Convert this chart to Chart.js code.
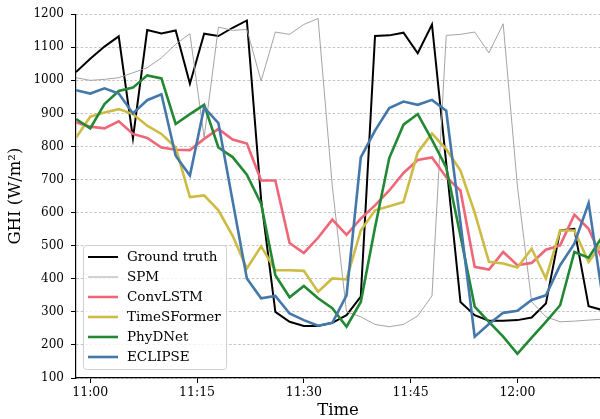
<!DOCTYPE html>
<html>
<head>
<meta charset="utf-8">
<script src="https://cdn.jsdelivr.net/npm/chart.js@4.4.1/dist/chart.umd.min.js"></script>
<style>
  html, body { margin: 0; padding: 0; background: #fff; }
  #wrap { width: 600px; height: 419px; }
</style>
</head>
<body>
<div id="wrap"><canvas id="ghiChart" width="600" height="419"></canvas></div>
<script>
// sample times, every 2 minutes
const times = ['10:58', '11:00', '11:02', '11:04', '11:06', '11:08', '11:10', '11:12', '11:14', '11:16',
  '11:18', '11:20', '11:22', '11:24', '11:26', '11:28', '11:30', '11:32', '11:34', '11:36',
  '11:38', '11:40', '11:42', '11:44', '11:46', '11:48', '11:50', '11:52', '11:54', '11:56',
  '11:58', '12:00', '12:02', '12:04', '12:06', '12:08', '12:10', '12:12'];

const groundTruth = [1025, 1065, 1102, 1133, 825, 1152, 1142, 1151, 990, 1141,
  1134, 1159, 1181, 640, 300, 270, 257, 257, 267, 290,
  346, 1134, 1136, 1144, 1082, 1169, 750, 330, 290, 273,
  273, 275, 283, 325, 546, 551, 317, 305];
const spm = [1008, 1000, 1003, 1008, 1023, 1038, 1068, 1109, 1141, 827,
  1161, 1151, 1154, 998, 1146, 1139, 1169, 1187, 680, 300,
  285, 262, 255, 262, 288, 348, 1136, 1139, 1146, 1083,
  1171, 680, 330, 285, 270, 272, 275, 278];
const convLSTM = [873, 860, 855, 876, 838, 826, 797, 790, 789, 823,
  853, 821, 809, 697, 697, 508, 478, 524, 579, 533,
  582, 622, 667, 720, 759, 767, 707, 667, 436, 428,
  481, 441, 448, 488, 501, 594, 551, 455];
const timeSFormer = [826, 890, 903, 913, 898, 863, 838, 797, 647, 652,
  607, 530, 431, 498, 426, 426, 424, 361, 401, 398,
  546, 607, 619, 632, 782, 839, 792, 727, 600, 451,
  446, 434, 491, 401, 546, 546, 451, 510];
const phyDNet = [883, 855, 928, 968, 978, 1015, 1006, 868, 898, 926,
  797, 768, 715, 627, 411, 344, 378, 341, 311, 255,
  330, 555, 765, 866, 898, 820, 737, 530, 316, 270,
  225, 173, 222, 270, 320, 481, 464, 530];
const eclipse = [970, 960, 976, 960, 900, 940, 958, 772, 712, 918,
  871, 635, 401, 341, 348, 295, 275, 258, 267, 350,
  767, 848, 916, 936, 926, 941, 908, 570, 225, 263,
  297, 303, 336, 350, 441, 506, 629, 340];

const xTickTimes = ['11:00', '11:15', '11:30', '11:45', '12:00'];
const yTicks = [100, 200, 300, 400, 500, 600, 700, 800, 900, 1000, 1100, 1200];

// minutes relative to 11:00
function toMin(t) {
  const [h, m] = t.split(':').map(Number);
  return (h - 11) * 60 + m;
}
function toLabel(v) {
  const h = 11 + Math.floor(v / 60);
  const m = ((v % 60) + 60) % 60;
  return h + ':' + String(m).padStart(2, '0');
}

const xs = times.map(toMin);
const pts = arr => arr.map((y, i) => ({ x: xs[i], y }));

const series = [
  { label: 'Ground truth', data: groundTruth, color: '#000000', width: 2 },
  { label: 'SPM', data: spm, color: '#9a9a9a', width: 0.9 },
  { label: 'ConvLSTM', data: convLSTM, color: '#EE6677', width: 2.6 },
  { label: 'TimeSFormer', data: timeSFormer, color: '#CCBB44', width: 2.6 },
  { label: 'PhyDNet', data: phyDNet, color: '#228833', width: 2.6 },
  { label: 'ECLIPSE', data: eclipse, color: '#4477AA', width: 2.6 }
];

Chart.defaults.font.family = '"DejaVu Serif", serif';
Chart.defaults.color = '#000';

// legend box in the lower left of the plot
const boxLegend = {
  id: 'boxLegend',
  afterDraw(chart) {
    const ctx = chart.ctx;
    const left = 83.5, top = 245.5, w = 143, h = 124;
    ctx.save();
    ctx.beginPath();
    ctx.roundRect(left, top, w, h, 3);
    ctx.fillStyle = 'rgba(255,255,255,0.8)';
    ctx.fill();
    ctx.strokeStyle = '#d0d0d0';
    ctx.lineWidth = 1;
    ctx.stroke();
    ctx.font = '13.5px "DejaVu Serif", serif';
    ctx.textBaseline = 'middle';
    ctx.fillStyle = '#000';
    chart.data.datasets.forEach((ds, i) => {
      const y = 257 + i * 20;
      ctx.beginPath();
      ctx.moveTo(88, y);
      ctx.lineTo(118, y);
      ctx.strokeStyle = ds.borderColor;
      ctx.lineWidth = ds.borderWidth;
      ctx.stroke();
      ctx.fillText(ds.label, 127, y);
    });
    ctx.restore();
  }
};

new Chart(document.getElementById('ghiChart'), {
  type: 'line',
  data: {
    datasets: series.map((s, i) => ({
      label: s.label,
      data: pts(s.data),
      borderColor: s.color,
      backgroundColor: s.color,
      borderWidth: s.width,
      pointRadius: 0,
      tension: 0,
      order: series.length - i
    }))
  },
  options: {
    responsive: false,
    animation: false,
    layout: { padding: { top: 13, right: 0, left: 0, bottom: 0 } },
    plugins: { legend: { display: false }, tooltip: { enabled: false } },
    scales: {
      x: {
        type: 'linear',
        min: -2,
        max: 71.6,
        afterBuildTicks: s => { s.ticks = xTickTimes.map(t => ({ value: toMin(t) })); },
        afterFit: s => { s.height = 41; },
        ticks: { callback: v => toLabel(v), font: { size: 12.5 }, padding: 2, maxRotation: 0 },
        grid: { drawOnChartArea: false, tickLength: 5, tickColor: '#000', tickWidth: 1 },
        border: { color: '#000', width: 1.2 },
        title: { display: true, text: 'Time', font: { size: 16.5, lineHeight: 1 }, padding: { top: 0, bottom: 0 } }
      },
      y: {
        min: 100,
        max: 1200,
        afterBuildTicks: s => { s.ticks = yTicks.map(v => ({ value: v })); },
        afterFit: s => { s.width = 76; },
        ticks: { callback: v => String(v), font: { size: 12 }, padding: 7 },
        grid: { color: '#b5b5b5', lineWidth: 0.8, tickLength: 5, tickColor: '#000', tickWidth: 1 },
        border: { color: '#000', width: 1.2, dash: [2.5, 2] },
        title: { display: true, text: 'GHI (W/m²)', font: { size: 16.5, lineHeight: 1.2 }, padding: { top: 6, bottom: 0 } }
      }
    }
  },
  plugins: [boxLegend]
});
</script>
</body>
</html>
